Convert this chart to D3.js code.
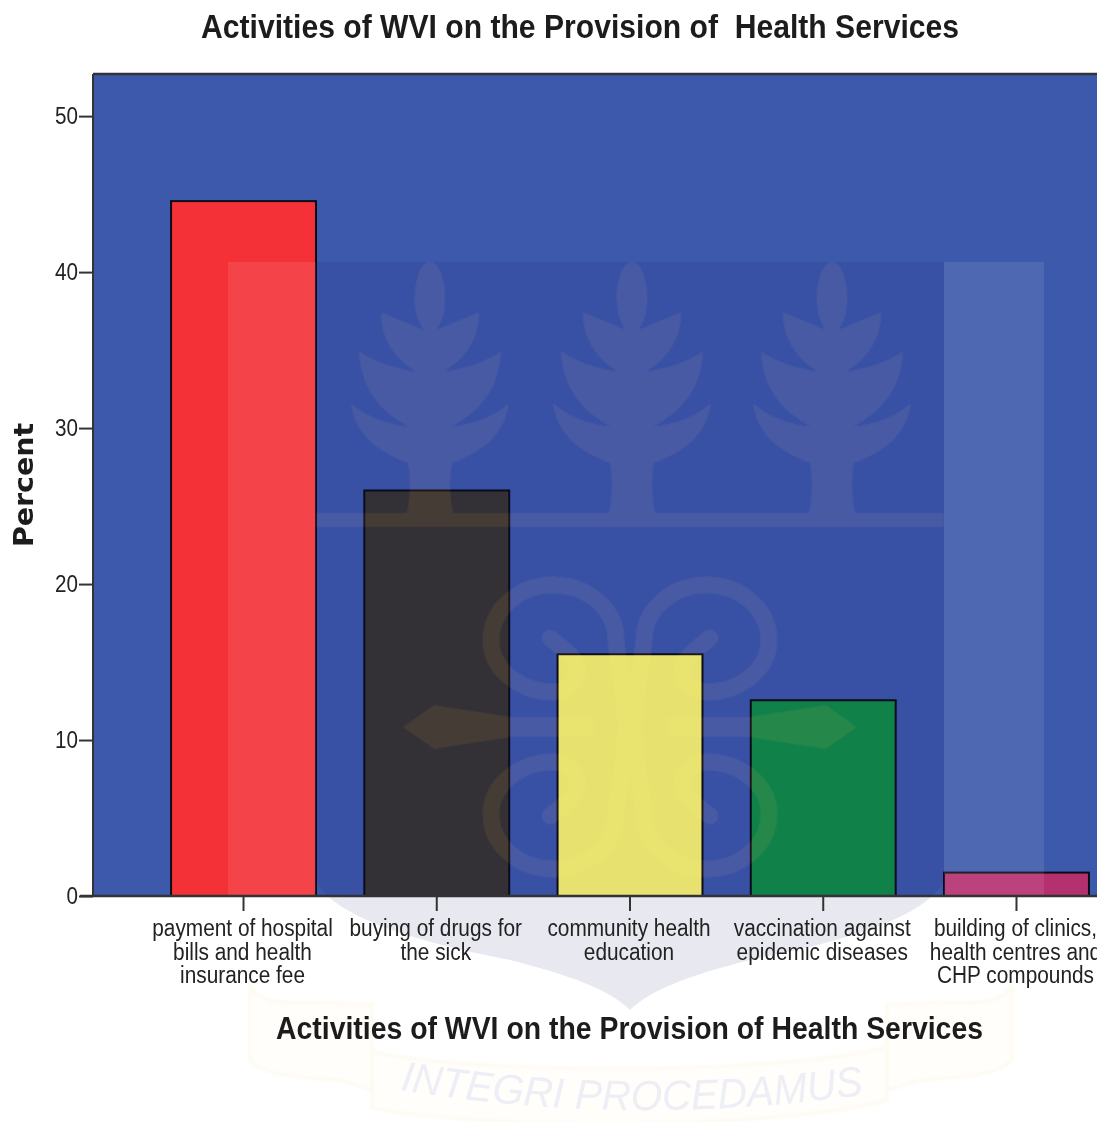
<!DOCTYPE html>
<html><head><meta charset="utf-8">
<script src="https://cdn.jsdelivr.net/npm/d3@7"></script>
<style>
html,body{margin:0;padding:0;background:#fff}
svg{display:block;filter:blur(.45px)}
text{font-family:"Liberation Sans",Arial,sans-serif;fill:#1c1c1c}
</style></head><body><svg id="c" width="1097" height="1122"></svg>
<script>
// ---- data ----
const categories = ["payment of hospital bills and health insurance fee","buying of drugs for the sick","community health education","vaccination against epidemic diseases","building of clinics, health centres and CHP compounds"];
const categoryLines = [["payment of hospital","bills and health","insurance fee"],["buying of drugs for","the sick"],["community health","education"],["vaccination against","epidemic diseases"],["building of clinics,","health centres and","CHP compounds"]];
const percents = [44.55, 26.0, 15.5, 12.55, 1.5];
const barColours = ["#f33137","#383531","#fef971","#128e47","#b5306f"];
const yTicks = [0,10,20,30,40,50];
const yMax = 52.7;
const chartTitle = "Activities of WVI on the Provision of  Health Services";
const xTitle = "Activities of WVI on the Provision of Health Services";
const yTitle = "Percent";

const svg = d3.select("#c");
const plot = {l:93, r:1097, t:74, b:896};
const x = d3.scaleBand().domain(categories).range([146.9,1113.1]).paddingInner(.25).paddingOuter(.125);
const y = d3.scaleLinear().domain([0,yMax]).range([plot.b,plot.t]);

function fit(sel,w){ sel.each(function(){ d3.select(this).attr("textLength",w).attr("lengthAdjust","spacingAndGlyphs"); }); return sel; }
function squeeze(sel,f){ sel.each(function(){ const n=this.getComputedTextLength(); d3.select(this).attr("textLength",n*f).attr("lengthAdjust","spacingAndGlyphs"); }); return sel; }

const defs=svg.append("defs");
defs.append("filter").attr("id","soft").attr("x","-5%").attr("y","-5%").attr("width","110%").attr("height","110%")
  .append("feGaussianBlur").attr("stdDeviation",1.3);
defs.append("path").attr("id","motto").attr("d","M400,1090 Q630,1128 870,1094");

// plot background
svg.append("rect").attr("x",plot.l).attr("y",plot.t).attr("width",plot.r-plot.l).attr("height",plot.b-plot.t).attr("fill","#3d59ab");

// bars
svg.append("g").selectAll("rect").data(categories).join("rect")
  .attr("x",d=>x(d)).attr("width",x.bandwidth())
  .attr("y",(d,i)=>y(percents[i])).attr("height",(d,i)=>y(0)-y(percents[i]))
  .attr("fill",(d,i)=>barColours[i]).attr("stroke","#0c0c14").attr("stroke-width",2);

// ---- watermark crest (decoration laid over the chart) ----
const wm = svg.append("g");
// ribbon
const rib = wm.append("g").attr("fill","#fffefb").attr("stroke","#fdfbf2").attr("stroke-width",4).attr("filter","url(#soft)");
rib.append("path").attr("d","M250,985 C262,1010 300,1000 330,1003 L372,1005 V1090 L340,1080 C300,1078 262,1075 250,1060 Z");
rib.append("path").attr("d","M1012,985 C1000,1010 960,1000 930,1003 L887,1005 V1090 L920,1080 C960,1078 1000,1075 1012,1060 Z");
rib.append("path").attr("d","M372,1052 C480,1075 780,1075 887,1047 V1100 C780,1130 480,1130 372,1108 Z");
// shield
wm.append("path").attr("fill","rgb(10,10,110)").attr("fill-opacity",.095)
  .attr("d","M316,262H944V880C925,925 800,950 750,960C690,975 650,990 630,1010C610,990 570,975 510,960C460,950 335,925 316,880Z");
// side bands
wm.append("g").attr("fill","#fff").attr("fill-opacity",.09).selectAll("rect")
  .data([[228,88],[944,100]]).join("rect").attr("x",d=>d[0]).attr("width",d=>d[1]).attr("y",262).attr("height",640);
// light emblem
const em = wm.append("g").style("mix-blend-mode","screen").attr("fill","#141001").attr("filter","url(#soft)");
function tree(c){
  const p=(dx,yy)=>(c+dx)+","+yy;
  const half=s=>{const q=(dx,yy)=>p(s*dx,yy);
    return "C"+q(12,262)+" "+q(17,290)+" "+q(15,305)+"C"+q(14,318)+" "+q(10,325)+" "+q(6,330)
     +"L"+q(49,312)+"C"+q(50,335)+" "+q(38,358)+" "+q(13,372)
     +"C"+q(35,368)+" "+q(56,362)+" "+q(71,351)+"C"+q(70,385)+" "+q(52,412)+" "+q(20,427)
     +"C"+q(42,424)+" "+q(62,418)+" "+q(79,403)+"C"+q(76,430)+" "+q(58,450)+" "+q(22,463)
     +"C"+q(19,480)+" "+q(20,503)+" "+q(24,515);};
  return "M"+p(0,262)+half(1)+"L"+p(0,515)+"Z M"+p(0,262)+half(-1)+"L"+p(0,515)+"Z";
}
[430,632,832].forEach(c=>em.append("path").attr("d",tree(c)));
em.append("rect").attr("x",316).attr("y",513).attr("width",628).attr("height",14);
[[1,1],[-1,1],[1,-1],[-1,-1]].forEach(([sx,sy])=>{
  em.append("path").attr("fill","none").attr("stroke","#141001").attr("stroke-width",17).attr("stroke-linecap","round")
    .attr("transform",`translate(630,727) scale(${sx},${sy}) translate(-630,-727)`)
    .attr("d","M625,717 C625,690 618,665 616,640 A62.5,55 0 0 0 491,640 A62.5,52 0 0 0 554,692 C575,690 585,670 570,655 C562,647 555,642 550,638");
});
[[403,434,511,593],[857,826,749,667]].forEach(a=>{
  em.append("path").attr("d",`M${a[0]},727L${a[1]},705L${a[2]},717L${a[3]},717L${a[3]},737L${a[2]},737L${a[1]},749Z`);
});
em.append("circle").attr("cx",629).attr("cy",727).attr("r",11);
// motto
const mt=wm.append("text").style("fill","#eeeef6").attr("font-size",42).attr("font-style","italic");
mt.append("textPath").attr("href","#motto").attr("textLength",466).attr("lengthAdjust","spacingAndGlyphs").text("INTEGRI PROCEDAMUS");

// frame
svg.append("line").attr("x1",plot.l).attr("x2",plot.r).attr("y1",plot.t).attr("y2",plot.t).attr("stroke","#333").attr("stroke-width",2.5);
svg.append("line").attr("x1",plot.l).attr("x2",plot.l).attr("y1",plot.t).attr("y2",plot.b).attr("stroke","#333").attr("stroke-width",2);

// axes
const gy=svg.append("g").attr("transform",`translate(${plot.l},0)`)
  .call(d3.axisLeft(y).tickValues(yTicks).tickSize(14).tickPadding(1));
gy.select(".domain").remove();
gy.selectAll(".tick line").attr("stroke","#333").attr("stroke-width",2);
gy.selectAll("text").attr("font-size",24).style("fill","#222");
squeeze(gy.selectAll("text"),.86);

const gx=svg.append("g").attr("transform",`translate(0,${plot.b})`)
  .call(d3.axisBottom(x).tickSize(15).tickFormat(""));
gx.select(".domain").attr("stroke","#333").attr("stroke-width",2.5).attr("d",`M80,0H${plot.r}`);
gx.selectAll(".tick line").attr("stroke","#333").attr("stroke-width",2);

// category labels
const lab=svg.append("g");
categories.forEach((c,i)=>{
  categoryLines[i].forEach((t,j)=>{
    const e=lab.append("text").attr("x",x(c)+x.bandwidth()/2-1).attr("y",plot.b+40+j*23.5)
      .attr("text-anchor","middle").attr("font-size",23).style("fill","#222").text(t);
    squeeze(e,.905);
  });
});

// titles
fit(svg.append("text").attr("x",580).attr("y",38).attr("text-anchor","middle").attr("font-size",33).attr("font-weight","bold").style("white-space","pre").text(chartTitle),758);
fit(svg.append("text").attr("x",629.5).attr("y",1039).attr("text-anchor","middle").attr("font-size",31).attr("font-weight","bold").text(xTitle),707);
fit(svg.append("text").attr("transform","translate(33,485) rotate(-90)").attr("text-anchor","middle").attr("font-size",26).attr("font-weight","bold").style("font-family","DejaVu Sans").text(yTitle),124);
</script></body></html>
